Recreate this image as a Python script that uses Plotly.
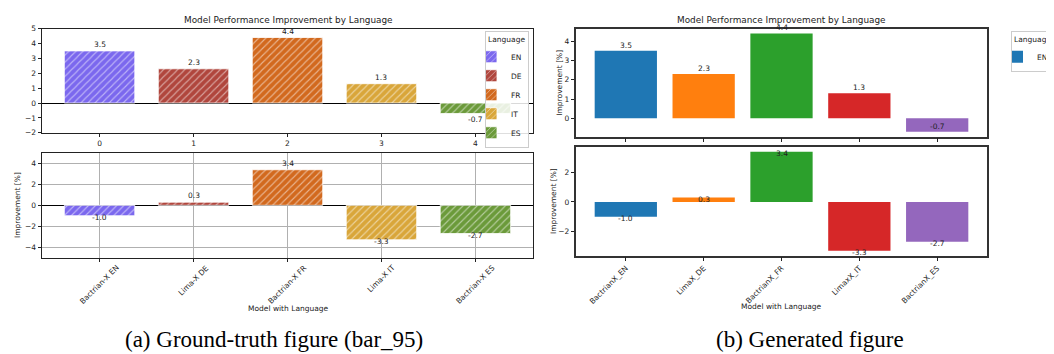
import plotly.graph_objects as go

# ---------------- data ----------------
languages = ["EN", "DE", "FR", "IT", "ES"]
positions = [0, 1, 2, 3, 4]
top_tick_text = ["0", "1", "2", "3", "4"]
model_labels = ["Bactrian-X EN", "Lima-X DE", "Bactrian-X FR", "Lima-X IT", "Bactrian-X ES"]
generated_labels = ["BactrianX_EN", "LimaX_DE", "BactrianX_FR", "LimaxX_IT", "BactrianX_ES"]
improvement_top = [3.5, 2.3, 4.4, 1.3, -0.7]
improvement_bottom = [-1.0, 0.3, 3.4, -3.3, -2.7]
left_top_yticks = [-2, -1, 0, 1, 2, 3, 4, 5]
left_bottom_yticks = [-4, -2, 0, 2, 4]
right_top_yticks = [0, 1, 2, 3, 4]
right_bottom_yticks = [-2, 0, 2]

gt_colors = ["#7b68ee", "#b0463d", "#d2691e", "#d9a63a", "#6b9a3a"]
gen_colors = ["#1f77b4", "#ff7f0e", "#2ca02c", "#d62728", "#9467bd"]

title_text = "Model Performance Improvement by Language"
ylabel_text = "Improvement [%]"
xlabel_text = "Model with Language"
caption_a = "(a) Ground-truth figure (bar_95)"
caption_b = "(b) Generated figure"

# ---------------- layout helpers ----------------
W, H = 1054, 354
FONT = "DejaVu Sans"
TXT = "#222222"


def px(x):
    return x / W


def py(y):
    return 1 - y / H


fig = go.Figure()

hatch = dict(shape="/", fgcolor="white", size=5, solidity=0.22)

# ---------------- left (ground truth) ----------------
for i, lang in enumerate(languages):
    fig.add_trace(go.Bar(
        x=[positions[i]], y=[improvement_top[i]], width=0.75, name=lang,
        marker=dict(color=gt_colors[i], line=dict(color="rgba(255,255,255,0.8)", width=1),
                    pattern=hatch),
        xaxis="x", yaxis="y", legend="legend", legendgroup=lang, showlegend=True,
    ))
    fig.add_trace(go.Bar(
        x=[positions[i]], y=[improvement_bottom[i]], width=0.75, name=lang,
        marker=dict(color=gt_colors[i], line=dict(color="rgba(255,255,255,0.8)", width=1),
                    pattern=hatch),
        xaxis="x2", yaxis="y2", legendgroup=lang, showlegend=False,
    ))

# ---------------- right (generated) ----------------
fig.add_trace(go.Bar(
    x=positions, y=improvement_top, width=0.8, name="EN",
    marker=dict(color=gen_colors, line=dict(width=0)),
    xaxis="x3", yaxis="y3", legend="legend2", showlegend=True,
))
fig.add_trace(go.Bar(
    x=positions, y=improvement_bottom, width=0.8, name="EN",
    marker=dict(color=gen_colors, line=dict(width=0)),
    xaxis="x4", yaxis="y4", showlegend=False,
))

tickfont = dict(family=FONT, size=7.5, color=TXT)
common_axis = dict(showline=True, mirror=True, linecolor="#222222", linewidth=1,
                   ticks="outside", ticklen=3.5, tickcolor="#222222", tickwidth=0.8,
                   tickfont=tickfont, showgrid=False, zeroline=False)

left_xrange = [-0.6125, 4.6125]
right_xrange = [-0.64, 4.64]

legend_font = dict(family=FONT, size=7.5, color=TXT)

fig.update_layout(
    width=W, height=H, autosize=False,
    margin=dict(l=0, r=0, t=0, b=0),
    paper_bgcolor="white", plot_bgcolor="white",
    barmode="overlay",
    font=dict(family=FONT, size=7.5, color=TXT),
    xaxis=dict(common_axis, domain=[px(34), px(525)], anchor="y", range=left_xrange,
               tickmode="array", tickvals=positions, ticktext=top_tick_text),
    yaxis=dict(common_axis, domain=[py(124), py(17)], anchor="x", range=[-2, 5],
               tickmode="array", tickvals=left_top_yticks,
               zeroline=True, zerolinecolor="black", zerolinewidth=1.3),
    xaxis2=dict(common_axis, domain=[px(34), px(525)], anchor="y2", range=left_xrange,
                tickmode="array", tickvals=positions, showticklabels=False,
                showgrid=True, gridcolor="#b0b0b0", gridwidth=1),
    yaxis2=dict(common_axis, domain=[py(252), py(144.7)], anchor="x2", range=[-5, 5],
                tickmode="array", tickvals=left_bottom_yticks,
                showgrid=True, gridcolor="#b0b0b0", gridwidth=1,
                zeroline=True, zerolinecolor="black", zerolinewidth=1.3),
    xaxis3=dict(common_axis, domain=[px(568), px(979)], anchor="y3", range=right_xrange,
                tickmode="array", tickvals=positions, showticklabels=False,
                linecolor="#333333", linewidth=1.5),
    yaxis3=dict(common_axis, domain=[py(128), py(17)], anchor="x3", range=[-0.955, 4.655],
                tickmode="array", tickvals=right_top_yticks,
                linecolor="#333333", linewidth=1.5),
    xaxis4=dict(common_axis, domain=[px(568), px(979)], anchor="y4", range=right_xrange,
                tickmode="array", tickvals=positions, ticktext=generated_labels, tickangle=-45,
                linecolor="#333333", linewidth=1.5),
    yaxis4=dict(common_axis, domain=[py(250), py(138.3)], anchor="x4", range=[-3.635, 3.735],
                tickmode="array", tickvals=right_bottom_yticks,
                linecolor="#333333", linewidth=1.5),
    legend=dict(x=px(477), y=py(20), xanchor="left", yanchor="top",
                bgcolor="rgba(255,255,255,0.85)", bordercolor="#cccccc", borderwidth=1,
                font=legend_font, indentation=-15,
                title=dict(text="Language", font=legend_font),
                itemwidth=30, tracegroupgap=0),
    legend2=dict(x=px(1003), y=py(20), xanchor="left", yanchor="top",
                 bgcolor="rgba(255,255,255,0.85)", bordercolor="#cccccc", borderwidth=1,
                 font=legend_font, indentation=-15,
                 title=dict(text="Language", font=legend_font),
                 itemwidth=30),
)

ann = []
small = dict(family=FONT, size=7.5, color=TXT)
# titles
for cx in (280, 773):
    ann.append(dict(text=title_text, x=px(cx), y=py(8.5), xref="paper", yref="paper",
                    showarrow=False, xanchor="center", yanchor="middle",
                    font=dict(family=FONT, size=8.9, color=TXT)))
# x-axis titles
ann.append(dict(text=xlabel_text, x=px(280), y=py(304), xref="paper", yref="paper",
                showarrow=False, xanchor="center", yanchor="middle", font=small))
ann.append(dict(text=xlabel_text, x=px(773), y=py(301.7), xref="paper", yref="paper",
                showarrow=False, xanchor="center", yanchor="middle", font=small))
# y-axis titles
for (cx, cy) in ((10, 198), (552, 72.5), (545, 194)):
    ann.append(dict(text=ylabel_text, x=px(cx), y=py(cy), xref="paper", yref="paper",
                    showarrow=False, textangle=-90, xanchor="center", yanchor="middle",
                    font=small))
# centered rotated tick labels for the left bottom panel
for i, lab in enumerate(model_labels):
    ann.append(dict(text=lab, x=positions[i], xref="x2", y=py(255), yref="paper",
                    showarrow=False, textangle=-45, xanchor="center", yanchor="top",
                    font=small))
# value labels
for i, v in enumerate(improvement_top):
    ann.append(dict(text=f"{v:.1f}", x=positions[i], y=v, xref="x", yref="y", showarrow=False,
                    xanchor="center", yanchor="bottom" if v >= 0 else "top", font=small))
    ann.append(dict(text=f"{v:.1f}", x=positions[i], y=v, xref="x3", yref="y3", showarrow=False,
                    xanchor="center", yanchor="bottom", yshift=-1, font=small))
for i, v in enumerate(improvement_bottom):
    if v >= 0:
        ann.append(dict(text=f"{v:.1f}", x=positions[i], y=v, xref="x2", yref="y2",
                        showarrow=False, xanchor="center", yanchor="bottom", font=small))
    else:
        ann.append(dict(text=f"{v:.1f}", x=positions[i], y=v, xref="x2", yref="y2",
                        showarrow=False, xanchor="center", yanchor="middle", yshift=-2,
                        font=small))
    ann.append(dict(text=f"{v:.1f}", x=positions[i], y=v, xref="x4", yref="y4", showarrow=False,
                    xanchor="center", yanchor="middle", yshift=-2, font=small))
# captions
ann.append(dict(text=caption_a, x=px(266), y=py(336), xref="paper", yref="paper",
                showarrow=False, xanchor="center", yanchor="middle",
                font=dict(family="Liberation Serif", size=23, color="black")))
ann.append(dict(text=caption_b, x=px(802), y=py(336), xref="paper", yref="paper",
                showarrow=False, xanchor="center", yanchor="middle",
                font=dict(family="Liberation Serif", size=23, color="black")))

fig.update_layout(annotations=ann)

fig.write_html("out.html")
